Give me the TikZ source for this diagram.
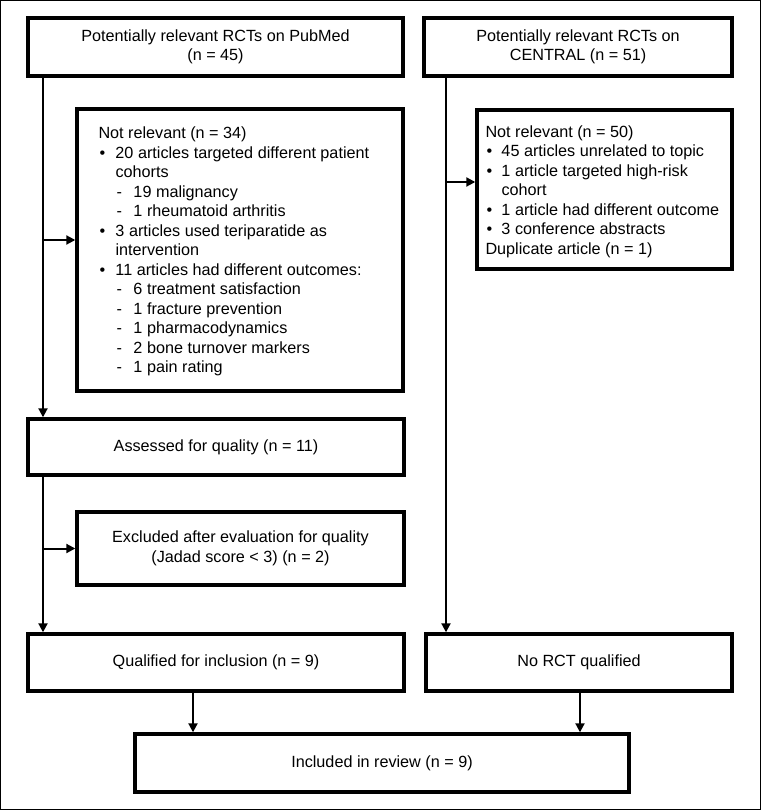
\documentclass[tikz,border=0pt]{standalone}
\usepackage{fontspec}
\setmainfont{Liberation Sans}
\usetikzlibrary{arrows.meta}
\newcommand{\bul}{\makebox[17pt][l]{\hspace{1pt}•}}
\newcommand{\bulr}{\makebox[16pt][l]{\hspace{1pt}•}}
\newcommand{\dsh}{\hspace*{18pt}\makebox[17pt][l]{-}}
\begin{document}
\begin{tikzpicture}[x=1pt,y=-1pt,
  every node/.style={font=\fontsize{16.2}{19.5}\selectfont, text=black},
  box/.style={draw=black, line width=3.4pt, inner sep=0pt, align=center},
  listtext/.style={align=left, inner sep=0pt, anchor=west},
  conn/.style={line width=2pt, -{Triangle[length=9pt,width=9pt]}},
  plain/.style={line width=2pt}]
\useasboundingbox (0,0) rectangle (761,810);
\draw[line width=1pt] (0.5,0.5) rectangle (760.5,809.5);

\node[box, minimum width=375pt, minimum height=58pt] (pub) at (215.5,47) {Potentially relevant RCTs on PubMed\\(n = 45)};
\node[box, minimum width=308pt, minimum height=58pt] (cen) at (578,47) {Potentially relevant RCTs on\\CENTRAL (n = 51)};

\node[box, minimum width=326pt, minimum height=282pt] (nr1) at (240,250) {};
\node[listtext] (nr1t) at ([xshift=23pt, yshift=-1.5pt]nr1.west) {Not relevant (n = 34)\\
\bul 20 articles targeted different patient\\
\hspace*{17pt}cohorts\\
\dsh 19 malignancy\\
\dsh 1 rheumatoid arthritis\\
\bul 3 articles used teriparatide as\\
\hspace*{17pt}intervention\\
\bul 11 articles had different outcomes:\\
\dsh 6 treatment satisfaction\\
\dsh 1 fracture prevention\\
\dsh 1 pharmacodynamics\\
\dsh 2 bone turnover markers\\
\dsh 1 pain rating};

\node[box, minimum width=255pt, minimum height=159pt] (nr2) at (604.5,189.5) {};
\node[listtext] (nr2t) at ([xshift=10pt, yshift=-2pt]nr2.west) {Not relevant (n = 50)\\
\bulr 45 articles unrelated to topic\\
\bulr 1 article targeted high-risk\\
\hspace*{16pt}cohort\\
\bulr 1 article had different outcome\\
\bulr 3 conference abstracts\\
Duplicate article (n = 1)};

\node[box, minimum width=376pt, minimum height=56pt] (assess) at (216,447) {Assessed for quality (n = 11)};
\node[box, minimum width=327pt, minimum height=73pt] (excl) at (240.5,548.5) {Excluded after evaluation for quality\\(Jadad score < 3) (n = 2)};
\node[box, minimum width=376pt, minimum height=57pt] (qual) at (216,662.5) {Qualified for inclusion (n = 9)};
\node[box, minimum width=306pt, minimum height=57pt] (norct) at (579,662.5) {No RCT qualified};
\node[box, minimum width=494pt, minimum height=58pt] (incl) at (382,763) {Included in review (n = 9)};

\coordinate (L) at (43,0);
\coordinate (R) at (446,0);
\coordinate (B1) at (193,0);
\coordinate (B2) at (580,0);

\draw[conn] (pub.south -| L) -- (assess.north -| L);
\draw[conn] ([yshift=10pt]nr1.west -| L) -- ([yshift=10pt]nr1.west);
\draw[conn] (assess.south -| L) -- (qual.north -| L);
\draw[conn] (excl.west -| L) -- (excl.west);
\draw[conn] (cen.south -| R) -- (norct.north -| R);
\draw[conn] ([yshift=7.5pt]nr2.west -| R) -- ([yshift=7.5pt]nr2.west);
\draw[conn] (qual.south -| B1) -- (incl.north -| B1);
\draw[conn] (norct.south -| B2) -- (incl.north -| B2);
\end{tikzpicture}
\end{document}
